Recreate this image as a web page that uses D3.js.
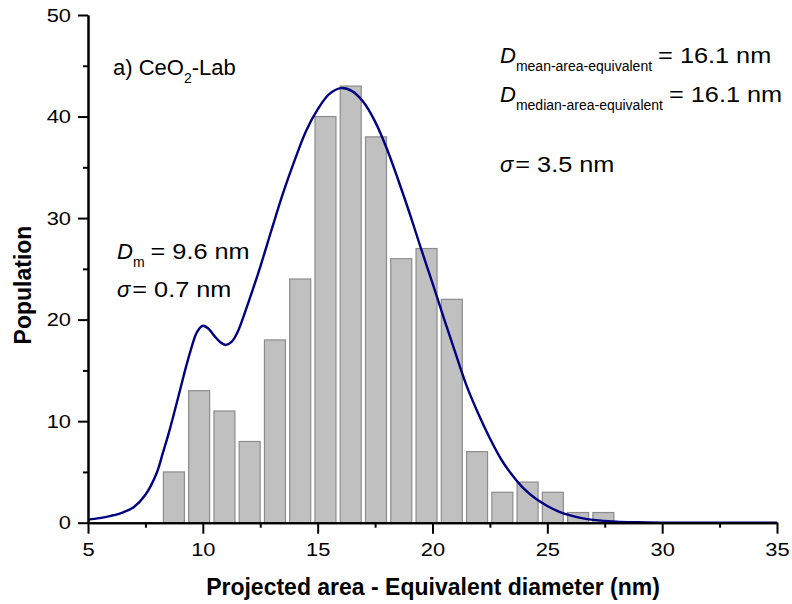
<!DOCTYPE html>
<html>
<head>
<meta charset="utf-8">
<script src="https://cdn.jsdelivr.net/npm/d3@7"></script>
<style>
  html, body { margin: 0; padding: 0; background: #fff; }
  svg { display: block; font-family: "Liberation Sans", Arial, Helvetica, sans-serif; }
</style>
</head>
<body>
<svg id="chart" width="792" height="604"></svg>
<script>
// Histogram of projected-area equivalent diameters (bin centres in nm)
const binCenters = [8.74, 9.84, 10.94, 12.04, 13.14, 14.24, 15.34, 16.44, 17.54,
                    18.64, 19.74, 20.84, 21.94, 23.04, 24.14, 25.24, 26.34, 27.44];
const binCounts  = [5, 13, 11, 8, 18, 24, 40, 43, 38, 26, 27, 22, 7, 3, 4, 3, 1, 1];
const binWidth = 0.914;

// Fitted bimodal distribution
const fitX = [5, 5.5, 6, 6.5, 7, 7.5, 8, 8.25, 8.5, 8.75, 9, 9.25, 9.5, 9.75, 10, 10.25,
              10.5, 10.75, 11, 11.25, 11.5, 12, 12.5, 13, 13.5, 14, 14.5, 15, 15.5, 16,
              16.5, 17, 17.5, 18, 18.5, 19, 19.5, 20, 20.5, 21, 21.5, 22, 22.5, 23, 23.5,
              24, 24.5, 25, 25.5, 26, 26.5, 27, 28, 29, 30, 32, 35];
const fitY = [0.3, 0.45, 0.68, 1.0, 1.55, 2.75, 4.95, 6.8, 8.7, 10.8, 13.0, 15.2, 17.2, 18.8, 19.4, 19.1,
              18.4, 17.8, 17.5, 17.8, 18.7, 21.8, 25.2, 28.9, 32.5, 35.7, 38.6, 40.7, 42.2, 42.8,
              42.5, 41.4, 39.5, 36.9, 33.8, 30.5, 27.0, 23.6, 20.1, 16.7, 13.4, 10.7, 8.3, 6.2, 4.6,
              3.3, 2.35, 1.65, 1.1, 0.72, 0.45, 0.28, 0.1, 0.04, 0.01, 0, 0];

const xMajorTicks = [5, 10, 15, 20, 25, 30, 35];
const xMinorTicks = [7.5, 12.5, 17.5, 22.5, 27.5, 32.5];
const yMajorTicks = [0, 10, 20, 30, 40, 50];
const yMinorTicks = [5, 15, 25, 35, 45];

const WIDE = 1.15; // horizontal stretch of the numeric lettering

const svg = d3.select("#chart");
const x = d3.scaleLinear().domain([5, 35]).range([88, 777]);
const y = d3.scaleLinear().domain([0, 50]).range([522.7, 15]);

// Bars
svg.append("g")
  .selectAll("rect")
  .data(binCenters.map((c, i) => ({ c, v: binCounts[i] })))
  .join("rect")
  .attr("x", d => x(d.c - binWidth / 2))
  .attr("width", d => x(d.c + binWidth / 2) - x(d.c - binWidth / 2))
  .attr("y", d => y(d.v))
  .attr("height", d => y(0) - y(d.v))
  .attr("fill", "#c0c0c0")
  .attr("stroke", "#8c8c8c")
  .attr("stroke-width", 1.2);

// Fit curve
const line = d3.line()
  .x(d => x(d[0]))
  .y(d => y(d[1]))
  .curve(d3.curveCatmullRom.alpha(0.5));
svg.append("path")
  .datum(fitX.map((v, i) => [v, fitY[i]]))
  .attr("d", line)
  .attr("fill", "none")
  .attr("stroke", "#000080")
  .attr("stroke-width", 2.4);

// Axes
function styleAxis(g) {
  g.select(".domain").attr("stroke", "#000").attr("stroke-width", 2);
  g.selectAll(".tick line").attr("stroke", "#000").attr("stroke-width", 2);
  g.selectAll(".tick text").attr("fill", "#000")
    .style("font-family", "'Liberation Sans', Arial, sans-serif").style("font-size", "19px");
}

svg.append("g")
  .attr("transform", `translate(0,${y(0)})`)
  .call(d3.axisBottom(x).tickValues(xMinorTicks).tickSize(5).tickSizeOuter(0).tickFormat(""))
  .call(styleAxis);
svg.append("g")
  .attr("transform", `translate(0,${y(0)})`)
  .call(d3.axisBottom(x).tickValues(xMajorTicks).tickSize(11).tickSizeOuter(0).tickPadding(9))
  .call(styleAxis)
  .call(g => g.selectAll(".tick text").attr("transform", `scale(${WIDE},1)`));

svg.append("g")
  .attr("transform", `translate(${x(5)},0)`)
  .call(d3.axisLeft(y).tickValues(yMinorTicks).tickSize(5).tickSizeOuter(0).tickFormat(""))
  .call(styleAxis);
svg.append("g")
  .attr("transform", `translate(${x(5)},0)`)
  .call(d3.axisLeft(y).tickValues(yMajorTicks).tickSize(10).tickSizeOuter(0))
  .call(styleAxis)
  .call(g => g.selectAll(".tick text")
    .attr("x", -17 / WIDE)
    .attr("transform", `scale(${WIDE},1)`));

// Axis titles
svg.append("text")
  .attr("x", 433).attr("y", 595)
  .attr("text-anchor", "middle")
  .style("font-weight", "bold").style("font-size", "23px")
  .text("Projected area - Equivalent diameter (nm)");
svg.append("text")
  .attr("transform", "translate(31,285) rotate(-90)")
  .attr("text-anchor", "middle")
  .style("font-weight", "bold").style("font-size", "23px")
  .text("Population");

// Annotations: a symbol (with optional subscript) followed by trailing text
function annotate(px, py, main, sub, rest, opts = {}) {
  const t = svg.append("text").attr("x", px).attr("y", py).style("font-size", "22px");
  t.append("tspan").style("font-style", opts.italic ? "italic" : "normal").text(main);
  if (sub) t.append("tspan").attr("dy", 8).style("font-size", "14px").text(sub);
  const len = t.node().getComputedTextLength();
  if (rest) {
    svg.append("text")
      .attr("transform", `translate(${px + len + (opts.gap || 0)},${py}) scale(${opts.wide ? WIDE : 1},1)`)
      .style("font-size", "22px")
      .text(rest);
  }
}

annotate(113, 75, "a) CeO", "2", "-Lab");
annotate(500, 62.5, "D", "mean-area-equivalent", "= 16.1 nm", { italic: true, gap: 6, wide: true });
annotate(500, 101.5, "D", "median-area-equivalent", "= 16.1 nm", { italic: true, gap: 6, wide: true });
annotate(500, 171.5, "σ", null, "= 3.5 nm", { italic: true, gap: 2, wide: true });
annotate(117, 258.5, "D", "m", "= 9.6 nm", { italic: true, gap: 6, wide: true });
annotate(117, 296.5, "σ", null, "= 0.7 nm", { italic: true, gap: 2, wide: true });
</script>
</body>
</html>
